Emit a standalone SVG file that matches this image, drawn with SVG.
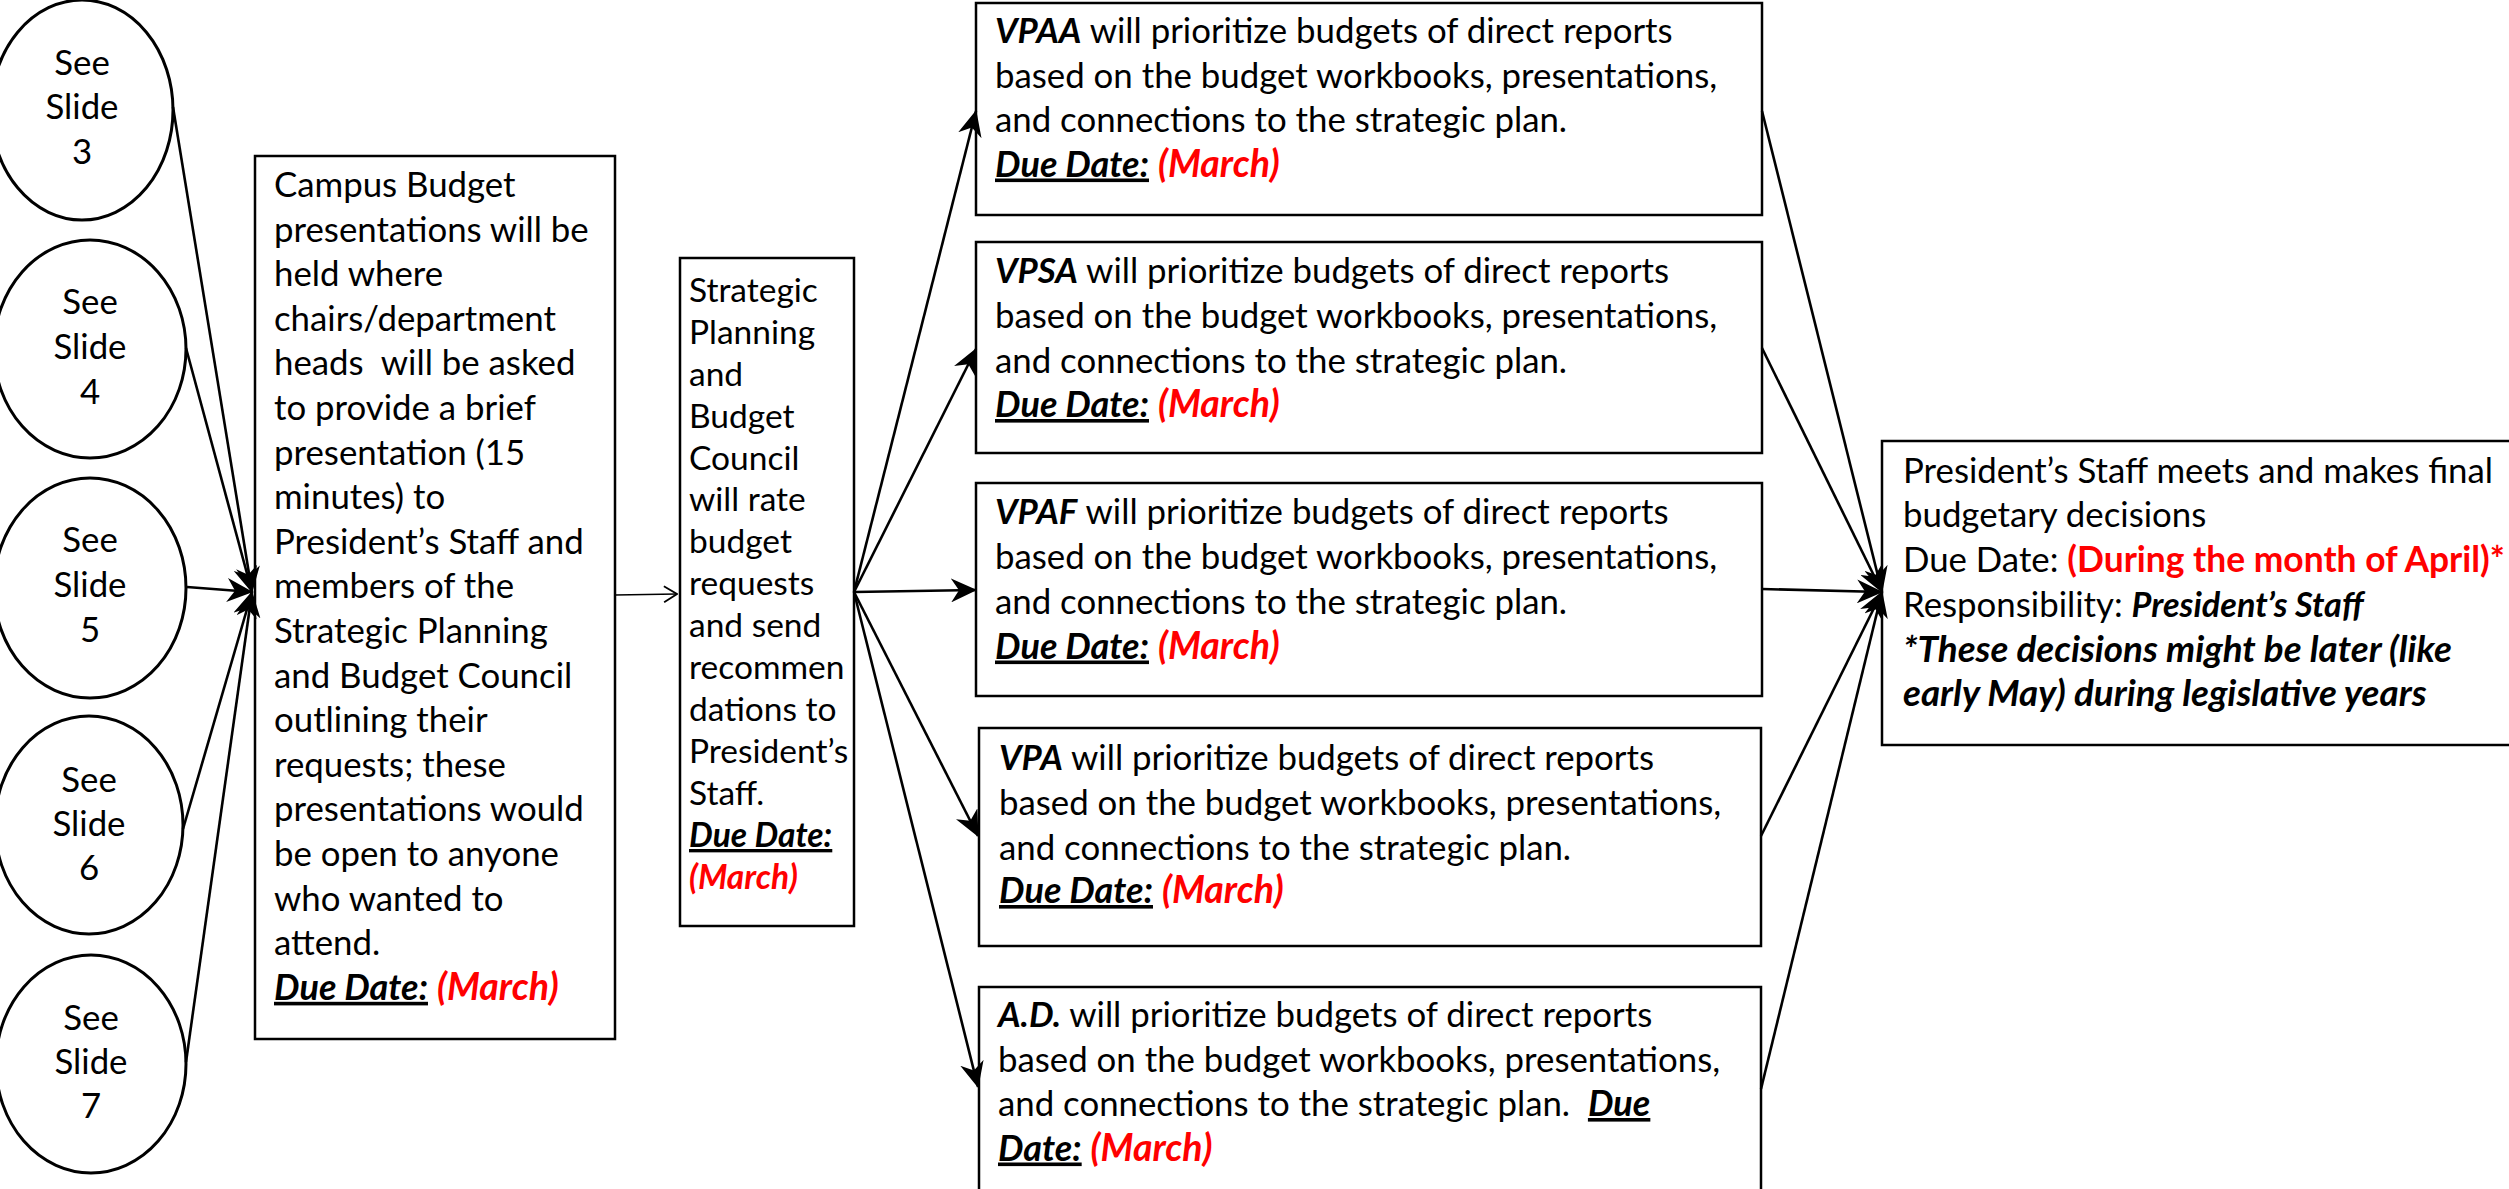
<svg xmlns="http://www.w3.org/2000/svg" width="2509" height="1189" viewBox="0 0 2509 1189">
  <defs>
    <style>
      .bg { fill: #ffffff; }
      .shape { fill: #ffffff; stroke: #000000; stroke-width: 2.5; }
      .oval { fill: #ffffff; stroke: #000000; stroke-width: 3; }
      .t { font-family: Lato, "Liberation Sans", sans-serif; font-size: 34.8px; fill: #000000; }
      .ts { font-family: Lato, "Liberation Sans", sans-serif; font-size: 33.5px; fill: #000000; }
      .c { text-anchor: middle; }
      .b { font-weight: bold; font-size: 35.4px; }
      .bi { font-weight: bold; font-style: italic; }
      .due { font-size: 36px; }
      .mar { font-size: 37.5px; }
      .note { font-size: 36.8px; }
      .who { font-size: 34.2px; }
      .red { fill: #ff0000; }
      .u { text-decoration: underline; }
      .edge { fill: none; stroke: #000000; stroke-width: 2.6; }
      .thin { fill: none; stroke: #000000; stroke-width: 1.6; }
    </style>
    <marker id="stealth" viewBox="0 0 26 24" refX="25" refY="12" markerWidth="26" markerHeight="24" markerUnits="userSpaceOnUse" orient="auto">
      <path d="M0,0 L26,12 L0,24 L8,12 Z" fill="#000000"/>
    </marker>
    <marker id="open" viewBox="0 0 16 20" refX="15" refY="10" markerWidth="16" markerHeight="20" markerUnits="userSpaceOnUse" orient="auto">
      <path d="M2,2 L15,10 L2,18" fill="none" stroke="#000000" stroke-width="1.8"/>
    </marker>
  </defs>

  <rect class="bg" x="0" y="0" width="2509" height="1189"/>

  <!-- slide reference ovals -->
  <g id="slide3">
    <ellipse class="oval" cx="82" cy="110" rx="91" ry="110"/>
    <text class="t c" x="82" y="75">See</text>
    <text class="t c" x="82" y="119">Slide</text>
    <text class="t c" x="82" y="164">3</text>
  </g>
  <g id="slide4">
    <ellipse class="oval" cx="90" cy="349" rx="96" ry="109"/>
    <text class="t c" x="90" y="314">See</text>
    <text class="t c" x="90" y="359">Slide</text>
    <text class="t c" x="90" y="404">4</text>
  </g>
  <g id="slide5">
    <ellipse class="oval" cx="90" cy="588" rx="96" ry="110"/>
    <text class="t c" x="90" y="552">See</text>
    <text class="t c" x="90" y="597">Slide</text>
    <text class="t c" x="90" y="642">5</text>
  </g>
  <g id="slide6">
    <ellipse class="oval" cx="89" cy="825" rx="94" ry="109"/>
    <text class="t c" x="89" y="792">See</text>
    <text class="t c" x="89" y="836">Slide</text>
    <text class="t c" x="89" y="880">6</text>
  </g>
  <g id="slide7">
    <ellipse class="oval" cx="91" cy="1064" rx="95" ry="109"/>
    <text class="t c" x="91" y="1030">See</text>
    <text class="t c" x="91" y="1074">Slide</text>
    <text class="t c" x="91" y="1118">7</text>
  </g>

  <!-- campus budget presentations -->
  <g id="campus">
    <rect class="shape" x="255" y="156" width="360" height="883" stroke-width="2"/>
    <text class="t" x="274" y="197">Campus Budget</text>
    <text class="t" x="274" y="241.6">presentations will be</text>
    <text class="t" x="274" y="286.2">held where</text>
    <text class="t" x="274" y="330.8">chairs/department</text>
    <text class="t" x="274" y="375.4">heads&#160; will be asked</text>
    <text class="t" x="274" y="420">to provide a brief</text>
    <text class="t" x="274" y="464.6">presentation (15</text>
    <text class="t" x="274" y="509.2">minutes) to</text>
    <text class="t" x="274" y="553.8">President’s Staff and</text>
    <text class="t" x="274" y="598.4">members of the</text>
    <text class="t" x="274" y="643">Strategic Planning</text>
    <text class="t" x="274" y="687.6">and Budget Council</text>
    <text class="t" x="274" y="732.2">outlining their</text>
    <text class="t" x="274" y="776.8">requests; these</text>
    <text class="t" x="274" y="821.4">presentations would</text>
    <text class="t" x="274" y="866">be open to anyone</text>
    <text class="t" x="274" y="910.6">who wanted to</text>
    <text class="t" x="274" y="955.2">attend.</text>
    <text class="t" x="274" y="999.8"><tspan class="bi u due">Due Date:</tspan> <tspan class="bi red mar">(March)</tspan></text>
  </g>

  <!-- strategic planning and budget council -->
  <g id="council">
    <rect class="shape" x="680" y="258" width="174" height="668" stroke-width="3"/>
    <text class="ts" x="689" y="302">Strategic</text>
    <text class="ts" x="689" y="344">Planning</text>
    <text class="ts" x="689" y="386">and</text>
    <text class="ts" x="689" y="428">Budget</text>
    <text class="ts" x="689" y="470">Council</text>
    <text class="ts" x="689" y="511">will rate</text>
    <text class="ts" x="689" y="553">budget</text>
    <text class="ts" x="689" y="595">requests</text>
    <text class="ts" x="689" y="637">and send</text>
    <text class="ts" x="689" y="679">recommen</text>
    <text class="ts" x="689" y="721">dations to</text>
    <text class="ts" x="689" y="763">President’s</text>
    <text class="ts" x="689" y="805">Staff.</text>
    <text class="ts bi u" x="689" y="847">Due Date:</text>
    <text class="ts bi red" x="689" y="889" font-size="35.5">(March)</text>
  </g>

  <!-- vice-president prioritisation boxes -->
  <g id="vpaa">
    <rect class="shape" x="976" y="3" width="786" height="212"/>
    <text class="t" x="995" y="43"><tspan class="bi">VPAA</tspan> will prioritize budgets of direct reports</text>
    <text class="t" x="995" y="87.5">based on the budget workbooks, presentations,</text>
    <text class="t" x="995" y="132">and connections to the strategic plan.</text>
    <text class="t" x="995" y="176.5"><tspan class="bi u due">Due Date:</tspan> <tspan class="bi red mar">(March)</tspan></text>
  </g>
  <g id="vpsa">
    <rect class="shape" x="976" y="242" width="786" height="211"/>
    <text class="t" x="995" y="283"><tspan class="bi">VPSA</tspan> will prioritize budgets of direct reports</text>
    <text class="t" x="995" y="328">based on the budget workbooks, presentations,</text>
    <text class="t" x="995" y="373">and connections to the strategic plan.</text>
    <text class="t" x="995" y="417"><tspan class="bi u due">Due Date:</tspan> <tspan class="bi red mar">(March)</tspan></text>
  </g>
  <g id="vpaf">
    <rect class="shape" x="976" y="483" width="786" height="213"/>
    <text class="t" x="995" y="524"><tspan class="bi">VPAF</tspan> will prioritize budgets of direct reports</text>
    <text class="t" x="995" y="568.5">based on the budget workbooks, presentations,</text>
    <text class="t" x="995" y="613.5">and connections to the strategic plan.</text>
    <text class="t" x="995" y="658.5"><tspan class="bi u due">Due Date:</tspan> <tspan class="bi red mar">(March)</tspan></text>
  </g>
  <g id="vpa">
    <rect class="shape" x="979" y="728" width="782" height="218"/>
    <text class="t" x="999" y="770"><tspan class="bi">VPA</tspan> will prioritize budgets of direct reports</text>
    <text class="t" x="999" y="815">based on the budget workbooks, presentations,</text>
    <text class="t" x="999" y="860">and connections to the strategic plan.</text>
    <text class="t" x="999" y="903"><tspan class="bi u due">Due Date:</tspan> <tspan class="bi red mar">(March)</tspan></text>
  </g>
  <g id="ad">
    <rect class="shape" x="979" y="987" width="782" height="240"/>
    <text class="t" x="998" y="1027"><tspan class="bi">A.D.</tspan> will prioritize budgets of direct reports</text>
    <text class="t" x="998" y="1071.5">based on the budget workbooks, presentations,</text>
    <text class="t" x="998" y="1116">and connections to the strategic plan.&#160; <tspan class="bi u due">Due</tspan></text>
    <text class="t" x="998" y="1160.5"><tspan class="bi u due">Date:</tspan> <tspan class="bi red mar">(March)</tspan></text>
  </g>

  <!-- final decision -->
  <g id="final">
    <rect class="shape" x="1882" y="441" width="660" height="304"/>
    <text class="t" x="1903" y="482.5">President’s Staff meets and makes final</text>
    <text class="t" x="1903" y="527">budgetary decisions</text>
    <text class="t" x="1903" y="572">Due Date: <tspan class="b red">(During the month of April)*</tspan></text>
    <text class="t" x="1903" y="617">Responsibility: <tspan class="bi who">President’s Staff</tspan></text>
    <text class="t bi note" x="1903" y="662">*These decisions might be later (like</text>
    <text class="t bi note" x="1903" y="706">early May) during legislative years</text>
  </g>

  <!-- connectors -->
  <g id="connectors">
    <line class="edge" x1="173" y1="107" x2="252" y2="592" marker-end="url(#stealth)"/>
    <line class="edge" x1="186" y1="348" x2="252" y2="592" marker-end="url(#stealth)"/>
    <line class="edge" x1="187" y1="587" x2="252" y2="592" marker-end="url(#stealth)"/>
    <line class="edge" x1="183" y1="829" x2="252" y2="592" marker-end="url(#stealth)"/>
    <line class="edge" x1="186" y1="1062" x2="252" y2="592" marker-end="url(#stealth)"/>

    <line class="thin" x1="615" y1="595" x2="677" y2="594" marker-end="url(#open)"/>

    <line class="edge" x1="854" y1="592" x2="976" y2="111" marker-end="url(#stealth)"/>
    <line class="edge" x1="854" y1="592" x2="976" y2="349" marker-end="url(#stealth)"/>
    <line class="edge" x1="854" y1="592" x2="976" y2="590" marker-end="url(#stealth)"/>
    <line class="edge" x1="854" y1="592" x2="978" y2="836" marker-end="url(#stealth)"/>
    <line class="edge" x1="854" y1="592" x2="978" y2="1087" marker-end="url(#stealth)"/>

    <line class="edge" x1="1762" y1="111" x2="1882" y2="592" marker-end="url(#stealth)"/>
    <line class="edge" x1="1762" y1="348" x2="1882" y2="592" marker-end="url(#stealth)"/>
    <line class="edge" x1="1762" y1="589" x2="1882" y2="592" marker-end="url(#stealth)"/>
    <line class="edge" x1="1761" y1="836" x2="1882" y2="592" marker-end="url(#stealth)"/>
    <line class="edge" x1="1761" y1="1089" x2="1882" y2="592" marker-end="url(#stealth)"/>
  </g>
</svg>
